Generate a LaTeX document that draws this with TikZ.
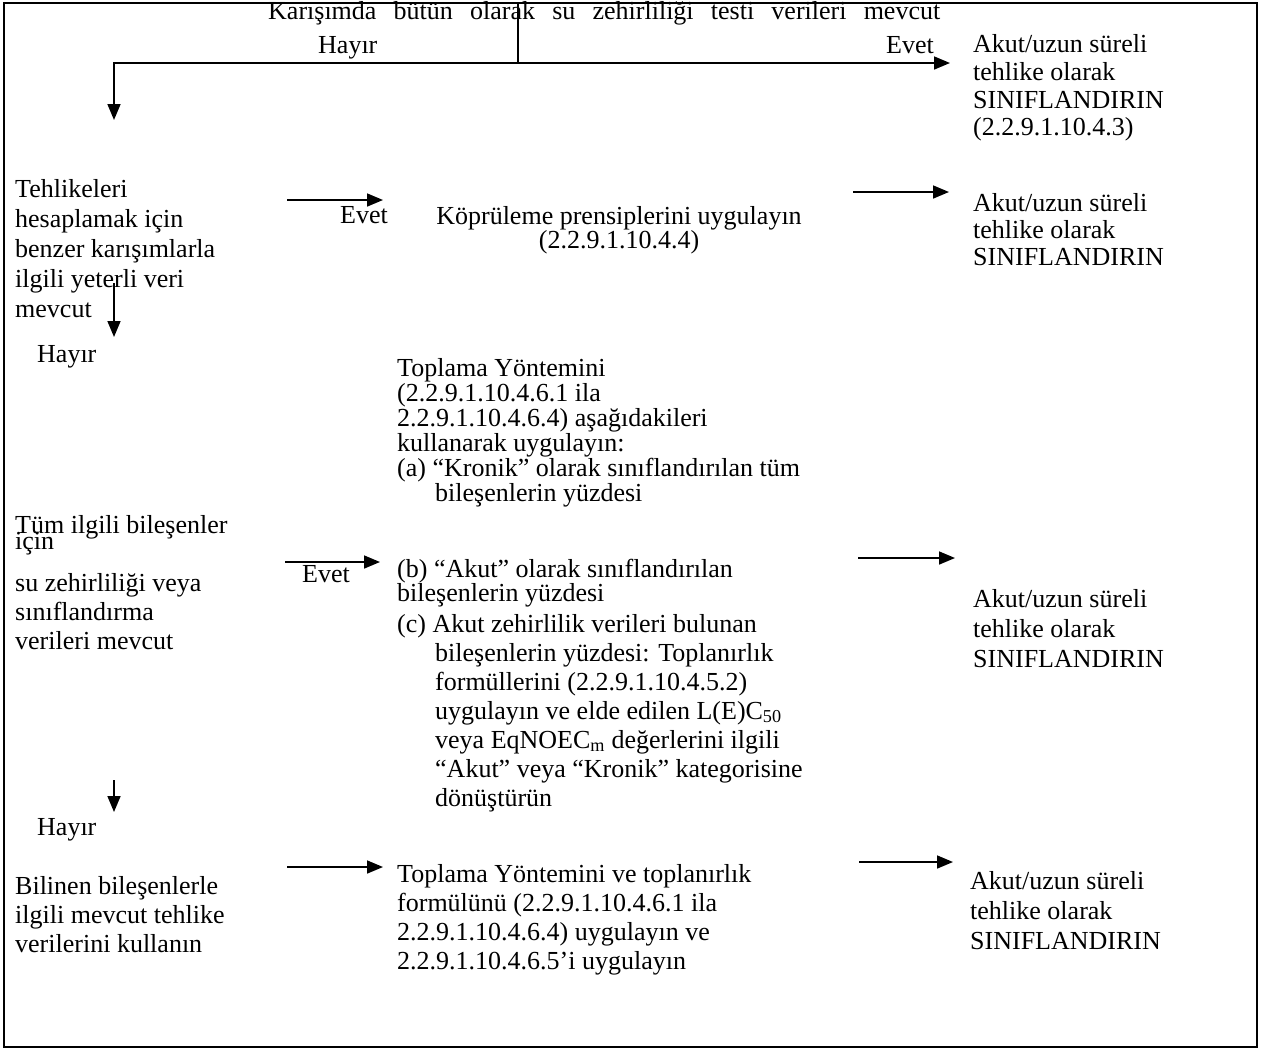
\documentclass[tikz,border=0pt]{standalone}
\usepackage{fontspec}
\setmainfont{Liberation Serif}
\usetikzlibrary{arrows.meta}
\newcommand\rows[2][l]{\begin{tabular}[t]{@{}#1@{}}#2\end{tabular}}

\begin{document}
\begin{tikzpicture}[x=1pt,y=-1pt,
  every node/.style={inner sep=0pt, anchor=base west, font=\fontsize{26}{30}\selectfont},
  arr/.style={-{Triangle[length=16pt,width=13pt]}, line width=1.7pt}]
  \useasboundingbox (0,0) rectangle (1261,1050);

  \node (title) at (268,19) {\hbox to 672pt{Karışımda\hfill bütün\hfill olarak\hfill su\hfill zehirliliği\hfill testi\hfill verileri\hfill mevcut}};
  \draw[line width=2.5pt] (4,3) rectangle (1257,1047);

  \path (518,3) coordinate (top) (518,63) coordinate (split) (114,120) coordinate (no1) (950,63) coordinate (yes1)
    (287,200) coordinate (r2a) (383,200) coordinate (r2b) (853,192) coordinate (r2c) (949,192) coordinate (r2d)
    (114,283) coordinate (d2a) (114,337) coordinate (d2b)
    (285,562) coordinate (r3a) (380,562) coordinate (r3b) (858,558) coordinate (r3c) (955,558) coordinate (r3d)
    (114,780) coordinate (d3a) (114,812) coordinate (d3b)
    (287,867) coordinate (r4a) (383,867) coordinate (r4b) (859,862) coordinate (r4c) (953,862) coordinate (r4d);

  \node (hayir1) at (318,53) {Hayır};
  \node (evet1) at (886,53) {Evet};
  \node (cls1) at (973,52) {\rows{Akut/uzun süreli\\[-2pt] tehlike olarak\\[-2pt] SINIFLANDIRIN\\[-3pt] (2.2.9.1.10.4.3)}};

  \node (data2) at (15,197) {\rows{Tehlikeleri\\ hesaplamak için\\ benzer karışımlarla\\ ilgili yeterli veri\\ mevcut}};
  \node (evet2) at (340,223) {Evet};
  \node[anchor=base] (bridge) at (619,224) {\rows[c]{Köprüleme prensiplerini uygulayın\\[-6pt] (2.2.9.1.10.4.4)}};
  \node (cls2) at (973,211) {\rows{Akut/uzun süreli\\[-3pt] tehlike olarak\\[-3pt] SINIFLANDIRIN}};
  \node (hayir2) at (37,362) {Hayır};

  \node (data3) at (15,533) {\rows{Tüm ilgili bileşenler\\[-14pt] için\\[12pt] su zehirliliği veya\\[-1pt] sınıflandırma\\[-1pt] verileri mevcut}};
  \node (evet3) at (302,582) {Evet};
  \node (sum3) at (397,376) {\rows{Toplama Yöntemini\\[-5pt] (2.2.9.1.10.4.6.1 ila\\[-5pt] 2.2.9.1.10.4.6.4) aşağıdakileri\\[-5pt] kullanarak uygulayın:\\[-5pt]
    (a) “Kronik” olarak sınıflandırılan tüm\\[-5pt] \hspace*{38pt}bileşenlerin yüzdesi\\[46pt]
    (b) “Akut” olarak sınıflandırılan\\[-6pt] bileşenlerin yüzdesi\\[1pt]
    (c) Akut zehirlilik verileri bulunan\\[-1pt] \hspace*{38pt}bileşenlerin yüzdesi: Toplanırlık\\[-1pt] \hspace*{38pt}formüllerini (2.2.9.1.10.4.5.2)\\[-1pt]
    \hspace*{38pt}uygulayın ve elde edilen L(E)C\textsubscript{50}\\[-1pt] \hspace*{38pt}veya EqNOEC\textsubscript{m} değerlerini ilgili\\[-1pt]
    \hspace*{38pt}“Akut” veya “Kronik” kategorisine\\[-1pt] \hspace*{38pt}dönüştürün}};
  \node (cls3) at (973,607) {\rows{Akut/uzun süreli\\ tehlike olarak\\ SINIFLANDIRIN}};
  \node (hayir3) at (37,835) {Hayır};

  \node (data4) at (15,894) {\rows{Bilinen bileşenlerle\\[-1pt] ilgili mevcut tehlike\\[-1pt] verilerini kullanın}};
  \node (sum4) at (397,882) {\rows{Toplama Yöntemini ve toplanırlık\\[-1pt] formülünü (2.2.9.1.10.4.6.1 ila\\[-1pt] 2.2.9.1.10.4.6.4) uygulayın ve\\[-1pt] 2.2.9.1.10.4.6.5’i uygulayın}};
  \node (cls4) at (970,889) {\rows{Akut/uzun süreli\\ tehlike olarak\\ SINIFLANDIRIN}};

  \draw[line width=1.7pt] (top) -- (split);
  \draw[arr] (split) -| (no1);
  \draw[arr] (split) -- (yes1);
  \draw[arr] (r2a) -- (r2b);
  \draw[arr] (r2c) -- (r2d);
  \draw[arr] (d2a) -- (d2b);
  \draw[arr] (r3a) -- (r3b);
  \draw[arr] (r3c) -- (r3d);
  \draw[arr] (d3a) -- (d3b);
  \draw[arr] (r4a) -- (r4b);
  \draw[arr] (r4c) -- (r4d);
\end{tikzpicture}
\end{document}
